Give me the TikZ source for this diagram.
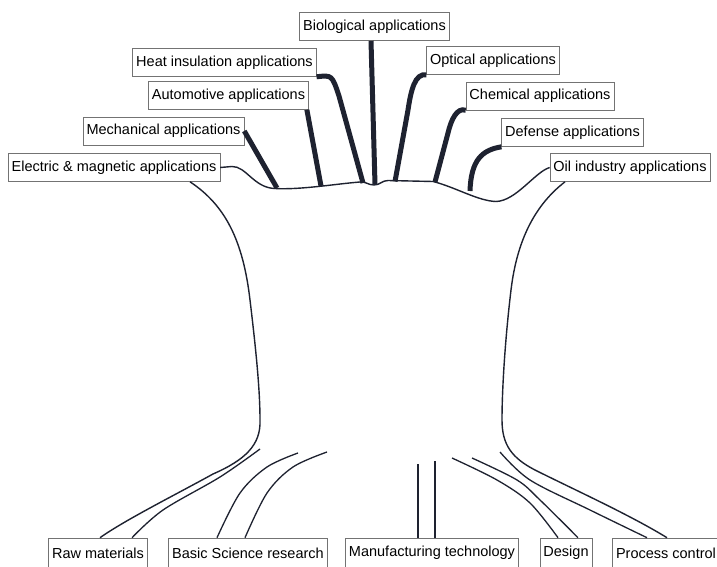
\documentclass[tikz,border=0pt]{standalone}
\usepackage{fontspec}
\setmainfont{Liberation Sans}
\usetikzlibrary{calc}
\definecolor{ink}{HTML}{1E2230}
\begin{document}
\begin{tikzpicture}[x=1pt,y=-1pt,
  lab/.style={draw=black!55, line width=0.6pt, inner xsep=3.5pt, inner ysep=0pt,
    minimum height=28pt, font=\fontsize{14.5}{16}\selectfont, text=black},
  blab/.style={lab, minimum height=30pt},
  stem/.style={ink, line width=5pt},
  edgeline/.style={ink, line width=1.4pt},
  rootline/.style={ink, line width=1.3pt}]
\useasboundingbox (0,0) rectangle (717,567);
\fill[white] (0,0) rectangle (717,567);

% top labels
\node[lab] (bio)  at (374.5,26.5) {Biological applications};
\node[lab] (heat) at (224.5,62.5) {Heat insulation applications};
\node[lab] (opt)  at (493,60.5)   {Optical applications};
\node[lab] (auto) at (228.5,95.5) {Automotive applications};
\node[lab] (chem) at (540,96)     {Chemical applications};
\node[lab] (mech) at (163.5,131)  {Mechanical applications};
\node[lab] (def)  at (572.5,132.5){Defense applications};
\node[lab] (elec) at (114,167.5)  {Electric \& magnetic applications};
\node[lab] (oil)  at (630,167.5)  {Oil industry applications};

% bottom labels
\node[blab] (raw)    at (98,553)  {Raw materials};
\node[blab] (basic)  at (248,553) {Basic Science research};
\node[blab] (manuf)  at (432,553) {Manufacturing technology};
\node[blab] (design) at (566,553) {Design};
\node[blab] (proc)   at (666,553) {Process control};

% points on the top edge
\coordinate (t1) at (277,188);
\coordinate (t2) at (321,186);
\coordinate (t3) at (363,183);
\coordinate (t4) at (375,184.5);
\coordinate (t5) at (395,181.5);
\coordinate (t6) at (435,182);
\coordinate (t7) at (470,191);

% top outline
\draw[edgeline] (elec.east) -- (232,166.5)
  .. controls (246,166) and (254,188) .. (275,188.5)
  .. controls (300,190) and (335,184) .. (360,182)
  .. controls (366,181.5) and (368,185) .. (374,185)
  .. controls (380,185) and (382,180.5) .. (388,180.5)
  -- (433,181.5)
  .. controls (455,187) and (478,201) .. (496,201.5)
  .. controls (516,201) and (535,172) .. (oil.west);

% stems
\draw[stem] (mech.east) -- (t1);
\draw[stem] ([xshift=-2]auto.south east) -- (t2);
\draw[stem] (heat.south east) .. controls (332,75) .. (339,96) -- (t3);
\draw[stem] ([xshift=-3.5]bio.south) -- (t4);
\draw[stem] (opt.south west) .. controls (415,73) and (411,90) .. (408,110) -- (t5);
\draw[stem] (chem.south west) .. controls (457,107) and (451,120) .. (448,133) -- (t6);
\draw[stem] (def.south west) .. controls (482,150) and (471,160) .. (t7);

% body sides
\draw[edgeline] ([xshift=76]elec.south)
  .. controls (225,205) and (243,240) .. (250,300)
  .. controls (256,350) and (260,390) .. (260,420)
  .. controls (261,445) and (245,460) .. (213,474)
  .. controls (175,495) and (125,520) .. ([xshift=2]raw.north);
\draw[edgeline] ([xshift=-65]oil.south)
  .. controls (535,205) and (517,240) .. (511,290)
  .. controls (505,340) and (502,390) .. (502,420)
  .. controls (502,445) and (512,458) .. (535,470)
  .. controls (575,490) and (630,515) .. ([xshift=1]proc.north);

% free ends of the roots
\coordinate (r1) at (260,449);
\coordinate (b1) at (298,453);
\coordinate (b2) at (327,452);
\coordinate (m1) at (418,464);
\coordinate (m2) at (435,461);
\coordinate (d1) at (452,458);
\coordinate (d2) at (472,458);
\coordinate (p1) at (500,452);

% roots
\draw[rootline] plot[smooth, tension=0.55] coordinates {(r1) (220,477) (163,510) ([xshift=34]raw.north)};
\draw[rootline] plot[smooth, tension=0.55] coordinates {(b1) (267,467) (240,493) ([xshift=-31]basic.north)};
\draw[rootline] plot[smooth, tension=0.55] coordinates {(b2) (293,467) (267,493) ([xshift=-3]basic.north)};
\draw[rootline] (m1) -- ([xshift=-14]manuf.north);
\draw[rootline] (m2) -- ([xshift=3]manuf.north);
\draw[rootline] plot[smooth, tension=0.55] coordinates {(d1) (497,480) (530,503) ([xshift=-8]design.north)};
\draw[rootline] plot[smooth, tension=0.55] coordinates {(d2) (517,480) (540,500) ([xshift=12]design.north)};
\draw[rootline] plot[smooth, tension=0.55] coordinates {(p1) (530,480) (590,510) ([xshift=-19]proc.north)};
\end{tikzpicture}
\end{document}
